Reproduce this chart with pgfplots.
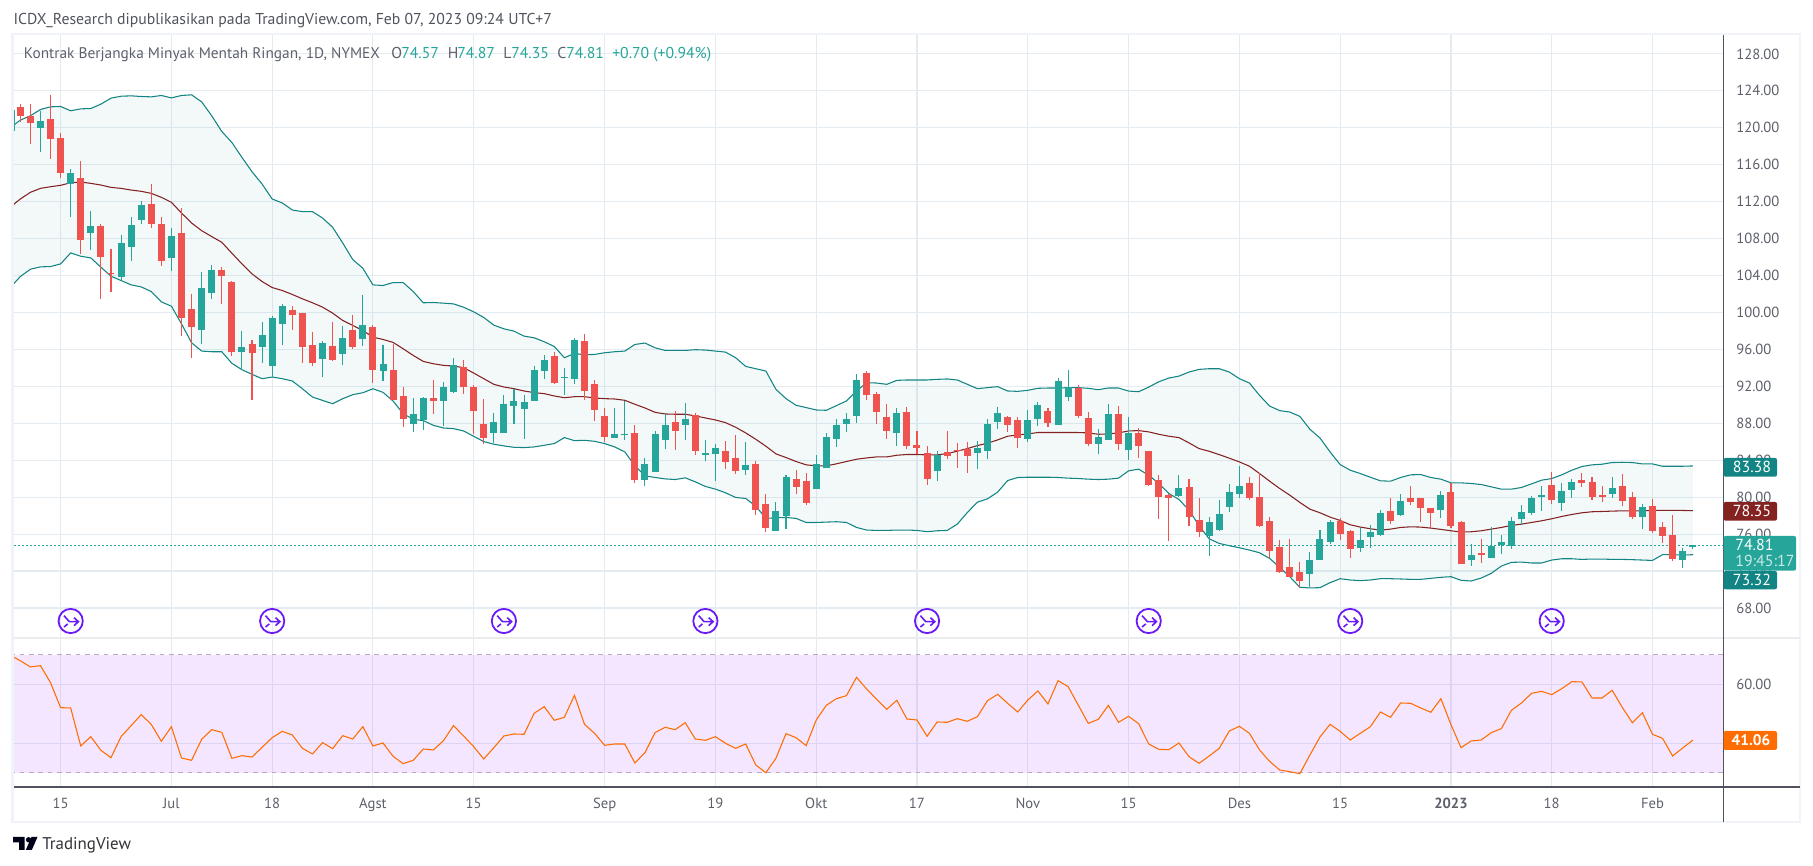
\documentclass[border=0pt]{standalone}
\usepackage{fontspec}
\setmainfont{PT Sans}
\usepackage{pgfplots}
\usepackage{pgfplotstable}
\pgfplotsset{compat=1.18}
\usepgfplotslibrary{fillbetween}

\definecolor{tvred}{HTML}{EF5350}
\definecolor{tvteal}{HTML}{26A69A}
\definecolor{band}{HTML}{138484}
\definecolor{basis}{HTML}{842222}
\definecolor{rsiline}{HTML}{FF6D00}
\definecolor{rsifill}{HTML}{9105F5}
\definecolor{rsidash}{HTML}{B8A8C2}
\definecolor{gridc}{HTML}{E4ECF2}
\definecolor{framec}{HTML}{F0F3FA}
\definecolor{axisc}{HTML}{50535E}
\definecolor{labelc}{HTML}{5D606B}
\definecolor{evt}{HTML}{6A1BF5}

% 1 px of the screenshot = 0.75pt
\pgfdeclareplotmark{split}{%
  \pgfsetlinewidth{1.35pt}%
  \pgfpathcircle{\pgfpointorigin}{9.1pt}\pgfusepath{stroke}%
  \pgfsetlinewidth{1.2pt}%
  \pgfpathmoveto{\pgfqpoint{-5pt}{4pt}}%
  \pgfpathlineto{\pgfqpoint{-1pt}{-0.5pt}}%
  \pgfpathlineto{\pgfqpoint{5.8pt}{-0.5pt}}%
  \pgfpathmoveto{\pgfqpoint{2.5pt}{2.5pt}}%
  \pgfpathlineto{\pgfqpoint{5.8pt}{-0.5pt}}%
  \pgfpathlineto{\pgfqpoint{2.5pt}{-3.5pt}}%
  \pgfpathmoveto{\pgfqpoint{-5pt}{-4.5pt}}%
  \pgfpathlineto{\pgfqpoint{-2.2pt}{-2.2pt}}%
  \pgfusepath{stroke}%
}

% candles: i high low bodytop bodybottom
\pgfplotstableread{
i h l t b
0 122.60 120.68 122.27 121.30
1 122.60 118.20 121.30 120.47
3 123.53 116.58 120.97 118.74
4 119.42 114.52 118.92 115.06
6 116.43 106.31 114.59 107.82
8 109.59 101.44 109.41 105.98
9 106.92 102.27 104.29 104.15
13 113.95 109.12 111.78 109.55
14 110.38 105.01 109.62 105.55
16 111.35 97.44 108.65 99.39
17 102.05 95.06 100.33 98.42
20 104.97 100.90 104.65 103.93
21 103.46 95.28 103.35 95.71
23 96.97 90.52 96.54 95.60
27 100.65 98.05 100.22 99.68
28 99.89 94.52 99.89 96.25
29 97.84 94.20 96.43 94.52
31 98.92 94.74 96.32 94.85
33 99.78 96.04 98.05 96.25
35 98.60 92.36 98.38 93.77
37 96.54 90.52 93.73 90.52
38 91.89 87.56 90.92 88.43
41 92.65 88.97 90.70 90.38
44 94.81 91.13 94.05 91.89
45 92.11 86.81 91.89 89.29
46 90.59 85.73 87.89 86.38
53 95.67 92.21 95.24 92.32
56 97.62 90.48 96.86 91.46
57 92.65 88.21 92.21 89.40
58 89.62 85.94 88.75 86.48
61 87.78 81.51 86.92 81.84
65 89.29 85.08 88.11 87.13
67 89.08 84.54 88.86 84.97
70 86.06 83.03 84.98 83.79
71 86.71 82.49 84.22 82.81
73 83.89 78.06 83.57 78.60
74 80.33 76.22 79.25 76.65
77 82.92 80.33 81.95 81.08
78 82.60 79.14 81.73 79.35
84 93.62 90.49 93.41 91.03
85 91.35 87.89 91.14 89.19
86 90.06 86.27 88.65 87.14
88 89.73 85.19 89.19 85.52
89 87.14 84.65 85.62 85.30
90 85.52 81.30 84.76 81.95
92 87.14 84.11 84.87 84.43
93 85.84 83.14 85.08 84.98
94 85.95 82.60 85.19 84.43
98 88.76 87.03 88.65 87.79
99 88.65 85.30 88.33 86.38
102 89.62 87.57 89.30 88.00
105 92.11 88.54 91.79 88.76
106 89.19 85.52 88.54 85.73
109 89.84 85.08 88.98 85.73
111 87.46 84.22 86.92 85.52
112 84.98 81.19 84.98 81.30
113 82.38 77.62 81.84 80.00
114 80.33 75.25 80.22 79.89
116 81.95 76.87 81.08 77.84
117 79.86 75.71 77.52 76.26
122 82.16 79.68 81.52 79.89
123 82.60 76.76 80.00 76.87
124 77.84 73.41 77.41 74.16
125 75.35 71.78 74.60 71.89
126 75.46 71.35 72.43 71.35
127 72.97 70.16 71.89 70.92
131 77.73 75.35 77.41 76.00
132 76.43 73.41 76.33 74.38
136 79.89 77.08 78.49 77.41
138 81.19 79.14 79.89 79.46
139 79.89 77.30 79.89 78.81
140 78.81 76.65 78.81 78.27
142 81.52 76.65 80.54 76.87
143 77.41 72.76 77.30 72.76
145 75.46 72.87 73.95 73.73
152 82.70 79.24 81.30 79.68
155 82.60 81.08 81.84 81.52
156 82.16 79.68 81.62 80.00
157 81.19 79.46 80.22 80.00
159 82.49 79.03 81.19 79.57
160 80.54 77.62 80.00 77.84
162 79.78 76.11 79.03 76.33
163 77.30 75.03 76.76 75.78
164 78.05 73.08 75.89 73.30
}\redcandles

\pgfplotstableread{
i h l t b
-0.9 121.91 119.60 121.91 119.60
2 121.84 117.33 120.76 119.93
5 115.53 110.31 115.10 113.91
7 111.03 106.74 109.41 108.58
10 108.43 103.53 107.57 103.82
11 110.38 105.55 109.51 107.06
12 112.11 109.55 111.68 109.98
15 109.15 104.47 108.32 105.87
18 104.43 96.58 102.70 98.09
19 105.19 101.44 104.65 102.09
22 97.95 93.77 96.22 95.71
24 98.92 94.52 97.51 96.25
25 99.57 93.01 99.35 94.20
26 100.87 96.47 100.65 98.74
30 96.87 93.01 96.65 94.96
32 98.49 94.31 97.19 95.50
34 101.84 96.36 98.60 97.12
36 96.43 92.58 94.38 93.66
39 90.70 87.02 88.97 87.89
40 90.81 87.24 90.70 88.32
42 92.43 87.67 91.89 90.38
43 95.02 91.24 94.27 91.35
47 89.08 85.84 88.11 86.92
48 91.02 86.92 90.05 86.92
49 91.67 87.89 90.38 89.84
50 91.02 86.27 90.27 89.51
51 94.16 90.38 93.73 90.38
52 95.35 92.75 94.81 93.62
54 93.94 91.02 92.97 92.86
55 97.29 92.21 96.97 92.75
59 89.62 86.38 86.81 86.38
60 90.38 86.16 86.81 86.70
62 84.21 81.19 83.56 81.84
63 87.13 82.70 86.81 82.70
64 89.08 85.19 87.78 86.16
66 90.16 86.16 88.43 87.78
68 86.16 83.89 84.76 84.54
69 85.80 81.73 85.30 84.65
72 85.95 82.38 83.46 82.92
75 79.46 76.33 78.49 76.33
76 82.38 76.54 82.16 77.95
79 84.54 80.87 83.57 80.87
80 86.92 83.14 86.49 83.14
81 88.44 85.41 87.79 86.27
82 89.08 87.03 88.44 87.89
83 93.30 88.00 92.65 88.76
87 89.62 85.52 89.08 86.92
91 84.98 81.73 84.54 82.81
95 86.06 83.03 85.30 84.76
96 88.44 84.11 87.89 84.98
97 89.73 87.35 89.08 88.11
100 89.41 85.95 88.33 86.27
101 90.27 87.68 89.95 88.44
103 92.87 87.79 92.54 87.79
104 93.73 90.38 91.89 90.81
107 87.35 84.65 86.49 85.73
108 90.06 86.16 88.98 86.16
110 88.65 84.00 86.92 85.08
115 82.38 80.00 80.98 80.11
118 77.84 73.62 77.30 75.78
119 79.68 76.33 78.16 76.43
120 81.41 78.38 80.54 78.92
121 83.35 79.89 81.19 80.33
128 74.05 70.27 73.19 71.68
129 76.43 73.19 75.46 73.19
130 77.51 74.92 77.30 75.14
133 76.65 74.05 75.35 74.49
134 76.97 74.49 76.22 75.68
135 78.60 75.78 78.27 75.89
137 80.33 77.95 79.57 78.05
141 80.65 77.73 80.22 78.60
144 74.92 72.54 73.73 73.19
146 76.76 73.41 74.70 73.41
147 75.89 73.84 75.14 74.81
148 77.84 74.38 77.41 74.70
149 79.14 76.97 78.38 77.62
150 80.11 78.05 79.89 78.27
151 81.19 78.49 80.22 80.00
153 81.52 78.49 80.65 79.35
154 81.95 79.89 81.62 80.76
158 82.16 79.89 80.97 80.33
161 79.24 76.54 78.92 77.84
165 74.49 72.32 74.16 73.19
166 74.87 74.35 74.81 74.57
}\tealcandles

% bollinger bands and rsi per bar
\pgfplotstableread{
i up mid lo rsi
-1 120.00 111.40 102.70 69.80
0 120.83 112.29 103.89 68.01
1 121.30 113.01 104.68 65.87
2 121.98 113.44 104.94 66.32
3 122.27 113.62 104.97 60.56
4 122.31 113.77 105.26 52.08
5 121.84 114.05 106.45 51.97
6 122.05 114.13 106.09 39.09
7 122.09 113.98 105.91 42.25
8 122.56 113.80 104.90 37.62
9 123.21 113.55 103.93 35.13
10 123.42 113.44 103.46 42.25
11 123.46 113.26 102.99 45.98
12 123.39 113.12 102.77 49.71
13 123.35 112.90 102.27 46.43
14 123.50 112.47 101.15 40.67
15 123.24 111.93 100.68 45.64
16 123.50 110.77 98.77 35.02
17 123.57 109.69 96.72 34.23
18 122.81 108.86 95.82 41.35
19 121.30 108.22 95.75 44.63
20 119.60 107.60 95.75 43.72
21 118.41 106.42 94.49 34.91
22 116.79 105.26 93.80 35.81
23 115.24 104.18 93.30 35.36
24 113.91 103.35 92.83 38.64
25 112.29 102.70 93.01 41.91
26 111.86 102.38 92.83 44.06
27 111.10 101.95 92.58 42.82
28 110.92 101.48 91.74 38.30
29 110.92 101.05 90.84 36.38
30 110.23 100.58 90.48 40.22
31 109.23 99.93 90.12 38.19
32 107.53 99.14 90.66 42.59
33 105.73 98.60 91.10 41.46
34 104.79 98.05 91.31 45.64
35 102.99 97.33 91.74 39.09
36 102.92 97.08 91.35 40.11
37 103.24 96.76 90.41 35.59
38 103.24 96.07 89.04 33.10
39 102.27 95.35 88.43 34.23
40 101.05 94.70 88.29 38.07
41 101.08 94.45 87.78 37.73
42 101.01 94.27 87.49 40.90
43 100.93 94.20 87.42 45.98
44 100.57 94.02 87.17 42.48
45 100.07 93.44 86.59 38.86
46 99.46 92.83 86.02 34.68
47 98.63 92.22 85.73 38.52
48 98.23 91.93 85.55 42.48
49 97.98 91.75 85.40 43.16
50 97.44 91.50 85.37 43.05
51 97.26 91.32 85.44 50.16
52 96.83 91.21 85.62 52.42
53 96.32 90.96 85.80 47.79
54 95.10 90.77 86.45 48.81
55 95.56 90.88 86.12 56.26
56 95.42 90.88 86.16 46.43
57 95.46 90.74 86.05 43.38
58 95.64 90.67 85.80 39.31
59 95.75 90.63 85.44 39.77
60 95.82 90.49 84.90 39.77
61 96.54 90.06 83.39 33.33
62 96.69 89.66 82.31 36.83
63 96.18 89.19 82.13 43.61
64 95.89 89.01 81.98 45.42
65 95.89 88.98 81.91 44.63
66 95.89 88.98 82.09 46.98
67 95.97 88.80 81.66 41.46
68 95.93 88.58 81.16 41.01
69 95.82 88.36 80.87 42.25
70 95.71 88.07 80.47 39.99
71 95.10 87.57 79.97 38.30
72 94.16 86.96 79.86 39.77
73 93.91 86.27 79.03 32.65
74 93.66 85.52 77.70 30.05
75 91.68 84.69 77.77 34.91
76 90.67 84.29 77.80 43.27
77 89.95 83.86 77.70 41.91
78 89.70 83.50 77.26 39.20
79 89.44 83.39 77.26 47.90
80 89.41 83.39 77.30 52.87
81 89.91 83.61 77.34 55.13
82 90.42 83.86 77.26 56.15
83 91.50 84.11 76.72 62.37
84 92.40 84.25 76.44 58.41
85 92.36 84.36 76.40 54.91
86 92.22 84.36 76.40 51.52
87 92.65 84.54 76.44 54.57
88 92.69 84.62 76.44 48.24
89 92.69 84.62 76.40 47.90
90 92.69 84.58 76.26 42.37
91 92.76 84.58 76.36 47.22
92 92.80 84.72 76.40 47.11
93 92.69 84.98 77.08 48.35
94 92.22 85.26 78.34 47.45
95 91.75 85.59 79.46 49.03
96 91.86 85.84 79.82 54.46
97 91.97 86.20 80.54 56.60
98 91.50 86.60 81.80 53.55
99 91.46 86.74 82.13 50.61
100 91.57 86.85 82.16 54.68
101 91.79 87.00 82.16 57.73
102 91.82 87.00 82.16 53.33
103 91.82 87.00 82.13 61.24
104 91.86 87.00 82.06 59.20
105 91.86 87.00 82.02 52.99
106 91.79 86.96 81.95 46.77
107 91.64 86.81 81.91 48.13
108 91.82 86.85 81.95 52.87
109 91.82 86.96 82.06 47.11
110 91.49 87.17 82.85 49.14
111 91.42 87.21 83.03 46.66
112 91.92 87.07 82.38 39.77
113 92.50 86.81 81.48 37.96
114 92.90 86.60 80.40 37.85
115 93.11 86.45 79.75 40.11
116 93.55 85.88 78.60 35.47
117 93.84 85.26 76.90 33.21
118 93.91 84.97 75.49 35.70
119 93.91 84.61 74.99 38.30
120 93.55 84.22 74.74 44.17
121 92.83 83.82 74.52 45.76
122 92.36 83.35 74.27 43.38
123 91.02 82.56 73.98 37.73
124 89.87 81.73 73.37 33.89
125 89.37 80.94 72.40 30.95
126 89.22 80.22 71.39 30.39
127 88.75 79.43 70.24 29.71
128 87.35 78.70 70.17 36.04
129 86.41 78.31 70.20 42.14
130 84.90 77.84 70.74 46.43
131 83.53 77.48 71.17 44.06
132 82.92 77.01 71.03 41.12
133 82.56 76.76 70.96 43.38
134 82.16 76.58 71.03 45.64
135 81.77 76.43 71.17 50.61
136 81.73 76.54 71.17 48.81
137 82.13 76.72 71.14 53.66
138 82.42 76.79 71.10 53.55
139 82.45 76.76 71.10 51.97
140 82.13 76.65 71.21 50.50
141 81.95 76.51 71.32 55.13
142 81.55 76.36 71.39 46.32
143 81.55 76.22 71.00 38.52
144 81.48 76.25 70.92 40.78
145 81.37 76.36 71.24 41.12
146 81.12 76.54 71.75 43.61
147 80.87 76.72 72.54 44.97
148 80.87 76.94 72.94 51.18
149 81.05 77.08 72.97 53.66
150 81.44 77.26 72.87 56.94
151 81.84 77.44 72.87 57.62
152 82.02 77.66 73.19 56.49
153 82.42 77.91 73.33 58.52
154 82.92 78.13 73.33 60.90
155 83.32 78.31 73.26 60.78
156 83.50 78.42 73.30 55.36
157 83.57 78.45 73.30 55.36
158 83.75 78.49 73.26 57.96
159 83.78 78.52 73.26 52.20
160 83.75 78.52 73.23 46.99
161 83.60 78.52 73.19 50.39
162 83.60 78.56 73.15 43.04
163 83.35 78.56 73.77 41.69
164 83.35 78.56 73.77 35.70
165 83.35 78.56 73.73 38.41
166 83.38 78.54 73.77 41.06
}\bars

\newcommand{\sz}[1]{\fontsize{#1}{#1}\selectfont}
\newcommand{\candles}[2]{% table, colour
  \addplot[draw=none, mark=none, forget plot,
    error bars/.cd, y dir=minus, y explicit, error mark=none,
    error bar style={draw=#2, line width=0.8pt}]
    table[x=i, y=h, y error expr=\thisrow{h}-\thisrow{l}] {#1};
  \addplot[draw=none, mark=none, forget plot,
    error bars/.cd, y dir=minus, y explicit, error mark=none,
    error bar style={draw=#2, line width=5.25pt}]
    table[x=i, y=t, y error expr=\thisrow{t}-\thisrow{b}] {#1};
}
\newcommand{\pricebox}[4]{% top, bottom, colour, text
  \path[fill=#3, rounded corners=1.5pt] (1723.6,#1) rectangle (1777,#2);
  \node[text=white, inner sep=0pt, font=\sz{12pt}] at (1752,{(#1+#2)/2}) {#4};
}
\newcommand{\T}[4]{\node[anchor=base west, inner sep=0pt, text=#3, font=\sz{11.8pt}] at (#1,#2) {#4};}

\begin{document}
\begin{tikzpicture}
\path (0,0) rectangle (1359.75pt,649.5pt);

\begin{axis}[
  name=price, at={(10.5pt,171pt)}, anchor=south west,
  scale only axis, width=1281.975pt, height=452.25pt,
  xmin=-0.625, xmax=169.03, ymin=64.75, ymax=130.05,
  xtick={4,15,25,35,45,58,69,79,89,100,110,121,131,142,152,162},
  xticklabels={}, ytick={68,72,...,128},
  yticklabel pos=right,
  yticklabel style={anchor=west, xshift=6.2pt, text=labelc, font=\sz{11pt},
    /pgf/number format/.cd, fixed, fixed zerofill, precision=2, assume math mode=true},
  grid=major, grid style={gridc, line width=0.85pt},
  axis line style={draw=none}, tick style={draw=none}, major tick length=0pt,
]
\addplot[name path=upper, band, line width=0.8pt, forget plot] table[x=i,y=up] {\bars};
\addplot[name path=lower, band, line width=0.8pt, forget plot] table[x=i,y=lo] {\bars};
\addplot[draw=none, fill=band, fill opacity=0.05, forget plot] fill between[of=upper and lower];
\addplot[basis, line width=0.8pt, forget plot] table[x=i,y=mid] {\bars};
\addplot[tvteal, line width=0.8pt, dash pattern=on 1pt off 2pt, forget plot]
  coordinates {(-1,74.81)(170,74.81)};
\candles{\redcandles}{tvred}
\candles{\tealcandles}{tvteal}
\addplot[only marks, mark=split, evt, forget plot] coordinates {
  (5,66.59)(25,66.59)(48,66.59)(68,66.59)(90,66.59)(112,66.59)(132,66.59)(152,66.59)};
\end{axis}

\begin{axis}[
  name=rsi, at={(10.5pt,59.25pt)}, anchor=south west,
  scale only axis, width=1281.975pt, height=111.75pt,
  xmin=-0.625, xmax=169.03, ymin=25.19, ymax=75.69,
  xtick={4,15,25,35,45,58,69,79,89,100,110,121,131,142,152,162},
  xticklabels={15,Jul,18,Agst,15,Sep,19,Okt,17,Nov,15,Des,15,\textbf{2023},18,Feb},
  xticklabel style={anchor=base, yshift=-16.5pt, text=labelc, font=\sz{11pt}},
  ytick={40,60}, yticklabel pos=right,
  yticklabel style={anchor=west, xshift=6.2pt, text=labelc, font=\sz{11pt},
    /pgf/number format/.cd, fixed, fixed zerofill, precision=2, assume math mode=true},
  grid=major, grid style={gridc, line width=0.85pt},
  axis line style={draw=none}, tick style={draw=none}, major tick length=0pt,
]
\addplot[draw=none, fill=rsifill, fill opacity=0.1, forget plot]
  coordinates {(-1,30)(-1,70)(170,70)(170,30)} -- cycle;
\addplot[rsidash, line width=0.8pt, dash pattern=on 3.5pt off 3.5pt, forget plot] coordinates {(-1,70)(170,70)};
\addplot[rsidash, line width=0.8pt, dash pattern=on 3.5pt off 3.5pt, forget plot] coordinates {(-1,30)(170,30)};
\addplot[rsiline, line width=0.8pt, forget plot] table[x=i,y=rsi] {\bars};
\end{axis}

% frame, separators, price boxes and texts, in screenshot pixels
\begin{scope}[x=0.75pt, y=-0.75pt, yshift=649.5pt]
\draw[framec, line width=1.9pt] (12.6,34) rectangle (1800,822);
\draw[gridc!70!axisc!30!white, line width=0.9pt] (14,638) -- (1800,638);
\draw[axisc, line width=0.8pt] (14,787) -- (1800,787);
\draw[axisc, line width=0.8pt] (1723.4,35) -- (1723.4,822);

\pricebox{458}{476.7}{band}{83.38}
\pricebox{502}{520.7}{basis}{78.35}
\pricebox{571}{589.3}{band}{73.32}
\path[fill=tvteal, rounded corners=1.5pt] (1723.6,536) rectangle (1796,570.7);
\node[anchor=base west, inner sep=0pt, text=white, font=\sz{12pt}] at (1735,551) {74.81};
\node[anchor=base west, inner sep=0pt, text=white!75!tvteal, font=\sz{12pt}] at (1735,567) {19:45:17};
\path[fill=rsiline, rounded corners=1.5pt] (1723.6,731) rectangle (1777,750);
\node[text=white, inner sep=0pt, font=\sz{11.5pt}\bfseries] at (1751,740.5) {41.06};

\T{13.4}{25}{axisc}{ICDX\_Research dipublikasikan pada TradingView.com, Feb 07, 2023 09:24 UTC+7}
\node[anchor=base west, inner sep=0pt, text=labelc, font=\sz{11.5pt}] at (23.7,59) {Kontrak Berjangka Minyak Mentah Ringan, 1D, NYMEX};
\T{391}{59}{labelc}{O}
\T{401}{59}{tvteal}{74.57}
\T{447.7}{59}{labelc}{H}
\T{457}{59}{tvteal}{74.87}
\T{503}{59}{labelc}{L}
\T{511}{59}{tvteal}{74.35}
\T{557}{59}{labelc}{C}
\T{566}{59}{tvteal}{74.81}
\T{612}{59}{tvteal}{+0.70}
\T{653}{59}{tvteal}{(+0.94\%)}

% logo
\path[fill=black!90!blue] (13,837) -- (24.5,837) -- (24.5,850) -- (19,850) -- (19,842.5) -- (13,842.5) -- cycle;
\path[fill=black!90!blue] (28.6,839.8) circle[radius=2.7];
\path[fill=black!90!blue] (31.5,837) -- (37.5,837) -- (31.8,850) -- (25.8,850) -- cycle;
\node[anchor=base west, inner sep=0pt, text=axisc!60!black, font=\sz{12.7pt}] at (42,850) {TradingView};
\end{scope}
\end{tikzpicture}
\end{document}
